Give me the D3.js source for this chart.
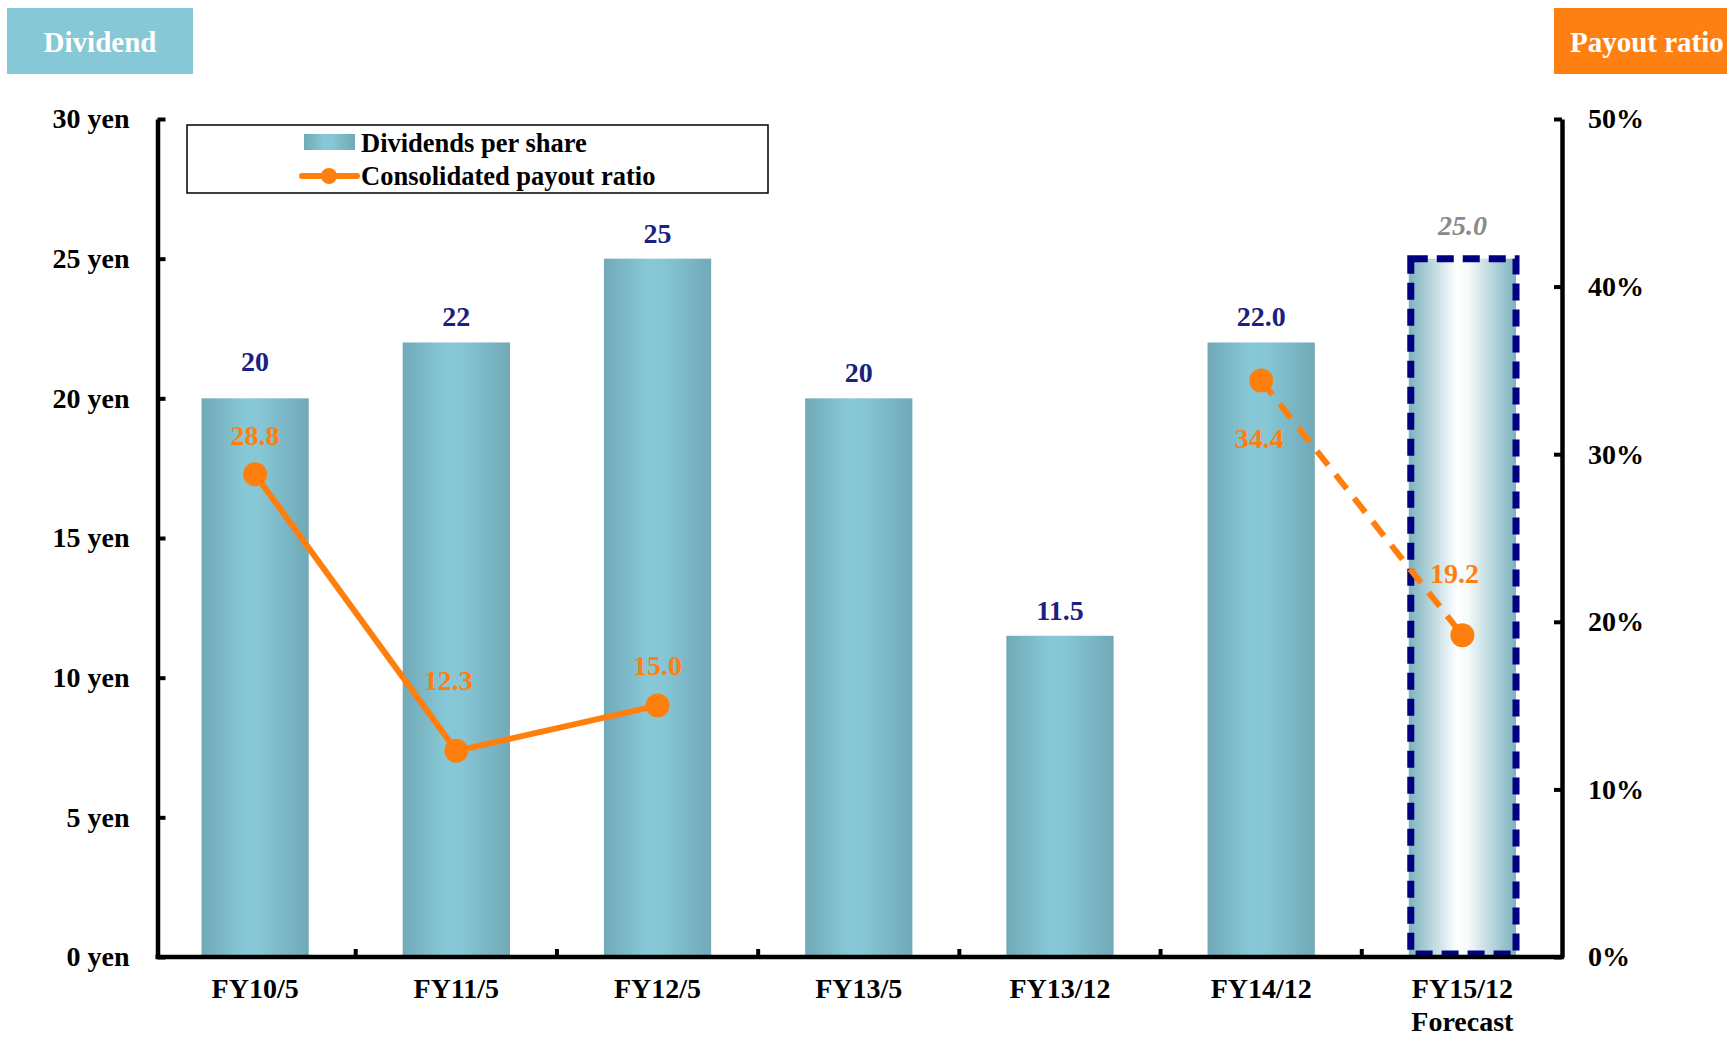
<!DOCTYPE html>
<html>
<head>
<meta charset="utf-8">
<script src="https://cdn.jsdelivr.net/npm/d3@7"></script>
<style>
  body { margin: 0; background: #fff; }
  svg text { font-family: "Liberation Serif", "Times New Roman", serif; font-weight: bold; }
  .axis .domain { stroke: #000; stroke-width: 4.5; }
  .axis .tick line { stroke: #000; stroke-width: 4; }
  .axis .tick text { fill: #000; font-size: 28px; }
</style>
</head>
<body>
<div id="chart"></div>
<script>

// data
var categories  = ["FY10/5", "FY11/5", "FY12/5", "FY13/5", "FY13/12", "FY14/12", "FY15/12"];
var tickLabels  = [["FY10/5"], ["FY11/5"], ["FY12/5"], ["FY13/5"], ["FY13/12"], ["FY14/12"], ["FY15/12", "Forecast"]];
var dividends   = [20, 22, 25, 20, 11.5, 22.0, 25.0];
var divLabels   = ["20", "22", "25", "20", "11.5", "22.0", "25.0"];
var payout      = [28.8, 12.3, 15.0, null, null, 34.4, 19.2];
var payoutLabels = ["28.8", "12.3", "15.0", null, null, "34.4", "19.2"];
var forecastCat = "FY15/12";
var yenTicks    = [0, 5, 10, 15, 20, 25, 30];
var pctTicks    = [0, 10, 20, 30, 40, 50];

// label nudges (px) for the payout numbers, relative to each point
var payoutNudge = [[0, -39], [-8, -71], [0, -40], null, null, [-2, 58], [-8, -62]];

var W = 1727, H = 1037;
var plotLeft = 157.5, plotRight = 1562, plotTop = 119, plotBottom = 957;

var navy = "#1b2180", orange = "#ff7f0e";

var svg = d3.select("#chart").append("svg")
  .attr("width", W)
  .attr("height", H);

var defs = svg.append("defs");

var gBar = defs.append("linearGradient").attr("id", "barGrad")
  .attr("x1", 0).attr("x2", 1).attr("y1", 0).attr("y2", 0);
gBar.append("stop").attr("offset", "0%").attr("stop-color", "#71a9b7");
gBar.append("stop").attr("offset", "40%").attr("stop-color", "#87c8d7");
gBar.append("stop").attr("offset", "55%").attr("stop-color", "#86c6d5");
gBar.append("stop").attr("offset", "100%").attr("stop-color", "#71a9b7");

var gFc = defs.append("linearGradient").attr("id", "fcGrad")
  .attr("x1", 0).attr("x2", 1).attr("y1", 0).attr("y2", 0);
gFc.append("stop").attr("offset", "0%").attr("stop-color", "#7cb2bf");
gFc.append("stop").attr("offset", "45%").attr("stop-color", "#ffffff");
gFc.append("stop").attr("offset", "55%").attr("stop-color", "#f6fafb");
gFc.append("stop").attr("offset", "100%").attr("stop-color", "#7cb2bf");

// scales (bands sit a touch left of the axis frame, as in the original)
var x = d3.scaleBand()
  .domain(categories)
  .range([plotLeft - 3, plotRight + 1])
  .paddingInner(0.467)
  .paddingOuter(0.2335);

var yYen = d3.scaleLinear().domain([0, 30]).range([plotBottom, plotTop]);
var yPct = d3.scaleLinear().domain([0, 50]).range([plotBottom, plotTop]);

// header boxes
svg.append("rect").attr("x", 7).attr("y", 8).attr("width", 186).attr("height", 66).attr("fill", "#87c8d6");
svg.append("text").attr("x", 100).attr("y", 52).attr("text-anchor", "middle")
  .attr("fill", "#fff").style("font-size", "29px").text("Dividend");

svg.append("rect").attr("x", 1554).attr("y", 8).attr("width", 180).attr("height", 66).attr("fill", "#ff8012");
svg.append("text").attr("x", 1570).attr("y", 52)
  .attr("fill", "#fff").style("font-size", "29px").text("Payout ratio");

// bars
var rows = categories.map(function(c, i) {
  return { cat: c, div: dividends[i], divLabel: divLabels[i], pay: payout[i], payLabel: payoutLabels[i], nudge: payoutNudge[i] };
});

svg.selectAll(".bar")
  .data(rows)
  .enter().append("rect")
  .attr("class", "bar")
  .attr("x", d => x(d.cat))
  .attr("y", d => yYen(d.div))
  .attr("width", x.bandwidth())
  .attr("height", d => plotBottom - yYen(d.div))
  .attr("fill", d => d.cat == forecastCat ? "url(#fcGrad)" : "url(#barGrad)");

// dashed frame round the forecast bar
var fc = rows.find(d => d.cat == forecastCat);
svg.append("rect")
  .attr("x", x(fc.cat) + 2)
  .attr("y", yYen(fc.div))
  .attr("width", x.bandwidth() - 2)
  .attr("height", plotBottom - yYen(fc.div) - 3)
  .attr("fill", "none")
  .attr("stroke", "#000080")
  .attr("stroke-width", 7)
  .attr("stroke-dasharray", "17,9");

// dividend labels
svg.selectAll(".divLabel")
  .data(rows)
  .enter().append("text")
  .attr("class", "divLabel")
  .attr("x", d => x(d.cat) + x.bandwidth() / 2)
  .attr("y", (d, i) => yYen(d.div) - (i == 0 ? 27 : (d.cat == forecastCat ? 24 : 16)))
  .attr("text-anchor", "middle")
  .style("font-size", "28px")
  .style("font-style", d => d.cat == forecastCat ? "italic" : "normal")
  .attr("fill", d => d.cat == forecastCat ? "#8a8a8a" : navy)
  .text(d => d.divLabel);

// axes
var xAxis = d3.axisBottom(x).tickSize(0).tickPadding(0).tickFormat("");
var gx = svg.append("g").attr("class", "axis")
  .attr("transform", "translate(0," + plotBottom + ")")
  .call(xAxis);
gx.select(".domain").attr("d", "M" + (plotLeft - 2) + ",0H" + (plotRight + 2));

// boundary ticks between the categories
var step = x.step();
svg.selectAll(".sepTick")
  .data(categories.slice(1))
  .enter().append("line")
  .attr("class", "sepTick")
  .attr("x1", d => x(d) - step * x.paddingInner() / 2)
  .attr("x2", d => x(d) - step * x.paddingInner() / 2)
  .attr("y1", plotBottom)
  .attr("y2", plotBottom - 8)
  .attr("stroke", "#000")
  .attr("stroke-width", 4);

// category labels
var xl = svg.selectAll(".xLabel")
  .data(rows)
  .enter().append("text")
  .attr("class", "xLabel")
  .attr("text-anchor", "middle")
  .style("font-size", "28px")
  .attr("transform", d => "translate(" + (x(d.cat) + x.bandwidth() / 2) + "," + 998 + ")");
xl.selectAll("tspan")
  .data((d, i) => tickLabels[i])
  .enter().append("tspan")
  .attr("x", 0)
  .attr("dy", (d, i) => i == 0 ? 0 : 33)
  .text(d => d);

var yAxisL = d3.axisLeft(yYen)
  .tickValues(yenTicks)
  .tickFormat(d => d + " yen")
  .tickSizeInner(-8)
  .tickSizeOuter(0)
  .tickPadding(28);
svg.append("g").attr("class", "axis")
  .attr("transform", "translate(" + plotLeft + ",0)")
  .call(yAxisL);

var yAxisR = d3.axisRight(yPct)
  .tickValues(pctTicks)
  .tickFormat(d => d + "%")
  .tickSizeInner(-8)
  .tickSizeOuter(0)
  .tickPadding(26);
svg.append("g").attr("class", "axis")
  .attr("transform", "translate(" + plotRight + ",0)")
  .call(yAxisR);

// payout line: solid for actuals, dashed into the forecast
var line = d3.line()
  .defined(d => d.pay != null)
  .x(d => x(d.cat) + x.bandwidth() / 2)
  .y(d => yPct(d.pay));

var fcIdx = categories.indexOf(forecastCat);
svg.append("path")
  .datum(rows.slice(0, fcIdx))
  .attr("d", line)
  .attr("fill", "none")
  .attr("stroke", orange)
  .attr("stroke-width", 6);

svg.append("path")
  .datum(rows.slice(fcIdx - 1, fcIdx + 1))
  .attr("d", line)
  .attr("fill", "none")
  .attr("stroke", orange)
  .attr("stroke-width", 6)
  .attr("stroke-dasharray", "18,12");

var pts = rows.filter(d => d.pay != null);
svg.selectAll(".pt")
  .data(pts)
  .enter().append("circle")
  .attr("class", "pt")
  .attr("cx", d => x(d.cat) + x.bandwidth() / 2)
  .attr("cy", d => yPct(d.pay))
  .attr("r", 12)
  .attr("fill", orange);

svg.selectAll(".payLabel")
  .data(pts)
  .enter().append("text")
  .attr("class", "payLabel")
  .attr("x", d => x(d.cat) + x.bandwidth() / 2 + d.nudge[0])
  .attr("y", d => yPct(d.pay) + d.nudge[1])
  .attr("dy", "0.35em")
  .attr("text-anchor", "middle")
  .style("font-size", "28px")
  .attr("fill", orange)
  .text(d => d.payLabel);

// legend
var lg = svg.append("g").attr("transform", "translate(187,125)");
lg.append("rect").attr("width", 581).attr("height", 68)
  .attr("fill", "#fff").attr("stroke", "#000").attr("stroke-width", 1.5);
lg.append("rect").attr("x", 117).attr("y", 9).attr("width", 51).attr("height", 16)
  .attr("fill", "url(#barGrad)");
lg.append("text").attr("x", 174).attr("y", 27).style("font-size", "26.5px").text("Dividends per share");
lg.append("line").attr("x1", 115).attr("x2", 170).attr("y1", 51).attr("y2", 51)
  .attr("stroke", orange).attr("stroke-width", 6).attr("stroke-linecap", "round");
lg.append("circle").attr("cx", 142).attr("cy", 51).attr("r", 8).attr("fill", orange);
lg.append("text").attr("x", 174).attr("y", 60).style("font-size", "26.5px").text("Consolidated payout ratio");

</script>
</body>
</html>
